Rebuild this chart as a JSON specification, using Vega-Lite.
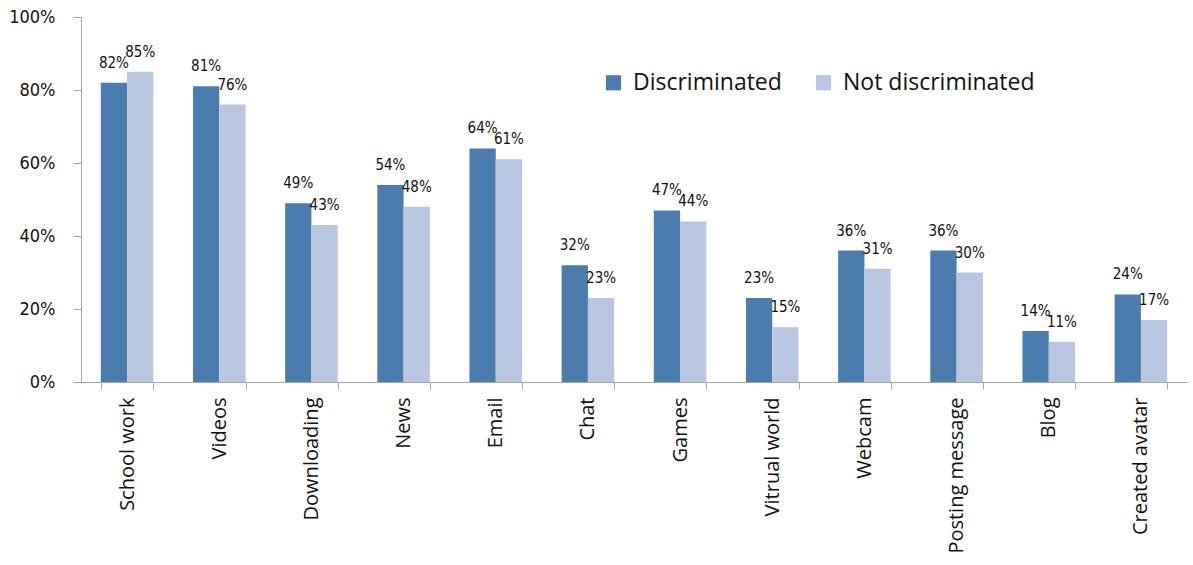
{
  "$schema": "https://vega.github.io/schema/vega-lite/v6.json",
  "width": 1106,
  "height": 365,
  "autosize": {"type": "none"},
  "padding": {"left": 81, "top": 17, "right": 6, "bottom": 183},
  "background": "white",
  "data": {
    "values": [
      {"activity": "School work", "group": "Discriminated", "value": 0.82},
      {"activity": "School work", "group": "Not discriminated", "value": 0.85},
      {"activity": "Videos", "group": "Discriminated", "value": 0.81},
      {"activity": "Videos", "group": "Not discriminated", "value": 0.76},
      {"activity": "Downloading", "group": "Discriminated", "value": 0.49},
      {"activity": "Downloading", "group": "Not discriminated", "value": 0.43},
      {"activity": "News", "group": "Discriminated", "value": 0.54},
      {"activity": "News", "group": "Not discriminated", "value": 0.48},
      {"activity": "Email", "group": "Discriminated", "value": 0.64},
      {"activity": "Email", "group": "Not discriminated", "value": 0.61},
      {"activity": "Chat", "group": "Discriminated", "value": 0.32},
      {"activity": "Chat", "group": "Not discriminated", "value": 0.23},
      {"activity": "Games", "group": "Discriminated", "value": 0.47},
      {"activity": "Games", "group": "Not discriminated", "value": 0.44},
      {"activity": "Vitrual world", "group": "Discriminated", "value": 0.23},
      {"activity": "Vitrual world", "group": "Not discriminated", "value": 0.15},
      {"activity": "Webcam", "group": "Discriminated", "value": 0.36},
      {"activity": "Webcam", "group": "Not discriminated", "value": 0.31},
      {"activity": "Posting message", "group": "Discriminated", "value": 0.36},
      {"activity": "Posting message", "group": "Not discriminated", "value": 0.30},
      {"activity": "Blog", "group": "Discriminated", "value": 0.14},
      {"activity": "Blog", "group": "Not discriminated", "value": 0.11},
      {"activity": "Created avatar", "group": "Discriminated", "value": 0.24},
      {"activity": "Created avatar", "group": "Not discriminated", "value": 0.17}
    ]
  },
  "encoding": {
    "x": {
      "field": "activity",
      "type": "nominal",
      "sort": null,
      "title": null,
      "scale": {"paddingInner": 0.43, "paddingOuter": 0.215},
      "axis": {
        "labelAngle": -90,
        "labelFont": "Open Sans",
        "labelFontSize": 20,
        "labelColor": "#111111",
        "labelPadding": 8,
        "tickBand": "extent",
        "tickSize": 7,
        "tickColor": "#A6A6A6",
        "domainColor": "#A6A6A6",
        "labelLimit": 0
      }
    },
    "xOffset": {"field": "group", "type": "nominal", "sort": ["Discriminated", "Not discriminated"]},
    "y": {
      "field": "value",
      "type": "quantitative",
      "title": null,
      "scale": {"domain": [0, 1]},
      "axis": {
        "values": [0, 0.2, 0.4, 0.6, 0.8, 1],
        "format": ".0%",
        "grid": false,
        "labelFont": "DejaVu Sans Condensed",
        "labelFontSize": 18,
        "labelColor": "#111111",
        "labelPadding": 18,
        "tickSize": 8,
        "tickColor": "#A6A6A6",
        "domainColor": "#A6A6A6"
      }
    }
  },
  "layer": [
    {
      "mark": {"type": "bar"},
      "encoding": {
        "color": {
          "field": "group",
          "type": "nominal",
          "sort": ["Discriminated", "Not discriminated"],
          "scale": {"domain": ["Discriminated", "Not discriminated"], "range": ["#4A7DAD", "#B8C6E1"]},
          "legend": {
            "title": null,
            "orient": "none",
            "direction": "horizontal",
            "legendX": 521,
            "legendY": 54,
            "symbolType": "square",
            "symbolSize": 230,
            "symbolStrokeWidth": 0,
            "labelFont": "Open Sans",
            "labelFontSize": 23,
            "labelColor": "#111111",
            "columnPadding": 30,
            "labelOffset": 8,
            "labelLimit": 0
          }
        }
      }
    },
    {
      "mark": {"type": "text", "baseline": "alphabetic", "dy": -15, "font": "DejaVu Sans Condensed", "fontSize": 15, "color": "#111111"},
      "encoding": {
        "text": {"field": "value", "type": "quantitative", "format": ".0%"}
      }
    }
  ],
  "config": {"view": {"stroke": null}}
}
